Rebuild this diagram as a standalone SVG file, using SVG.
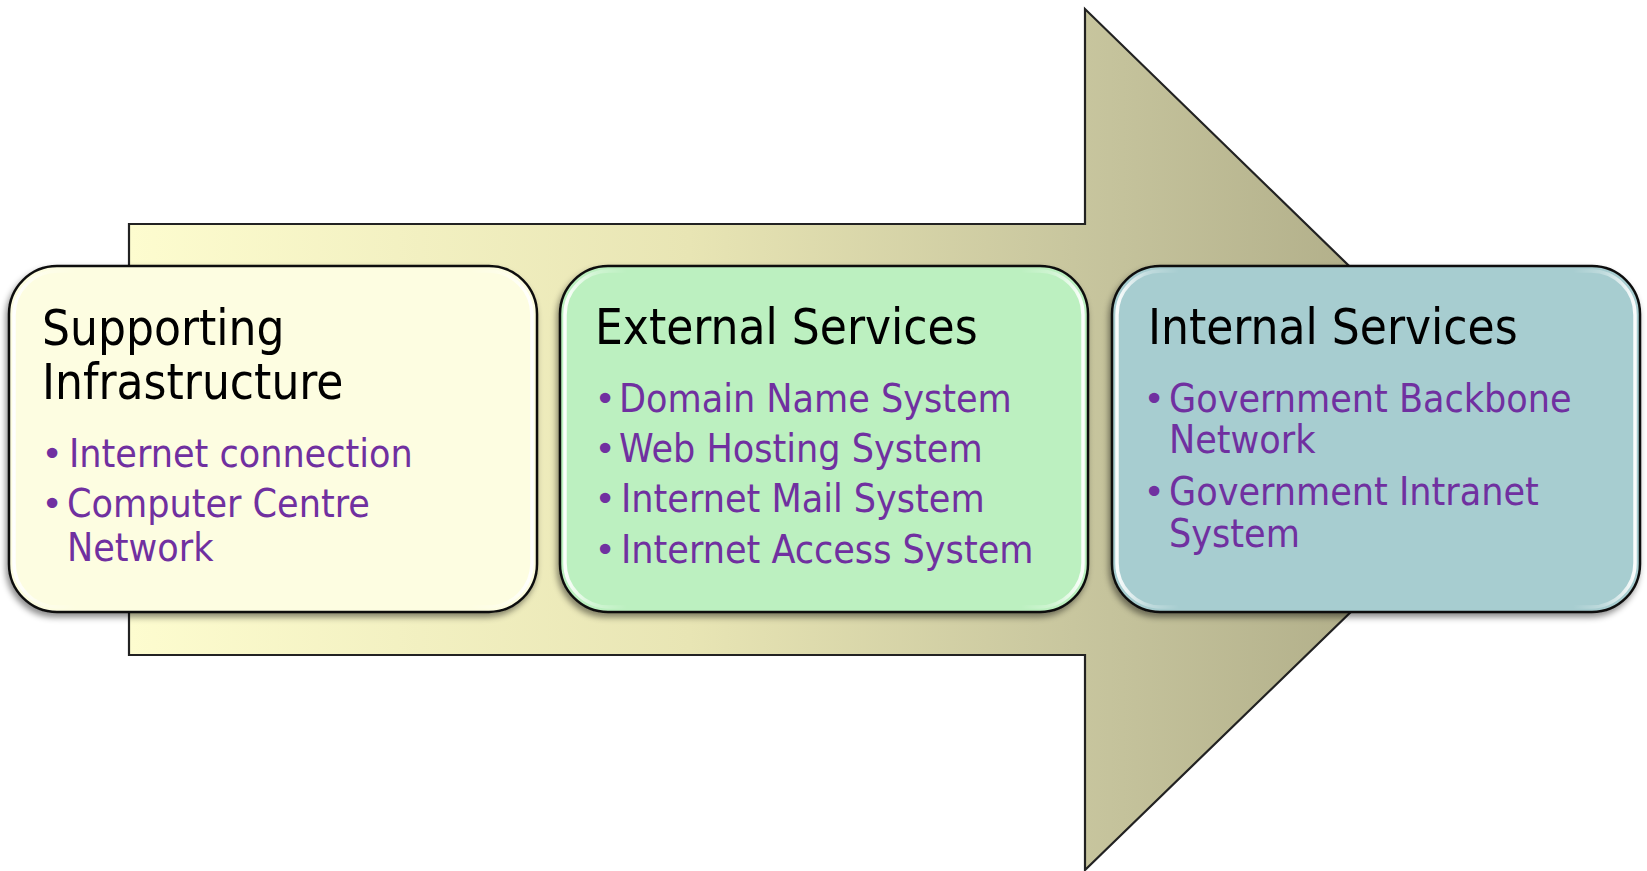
<svg xmlns="http://www.w3.org/2000/svg" width="1647" height="871" viewBox="0 0 1647 871">
<defs>
<linearGradient id="arrowGrad" gradientUnits="userSpaceOnUse" x1="129" y1="0" x2="1530" y2="0">
<stop offset="0" stop-color="#fdfccf"/>
<stop offset="0.4" stop-color="#e8e5b4"/>
<stop offset="0.7" stop-color="#c5c39c"/>
<stop offset="1" stop-color="#a5a27e"/>
</linearGradient>
<linearGradient id="gloss" x1="0" y1="0" x2="1" y2="0">
<stop offset="0" stop-color="#ffffff" stop-opacity="0.95"/>
<stop offset="0.06" stop-color="#ffffff" stop-opacity="0.3"/>
<stop offset="0.12" stop-color="#ffffff" stop-opacity="0"/>
<stop offset="0.88" stop-color="#ffffff" stop-opacity="0"/>
<stop offset="0.94" stop-color="#ffffff" stop-opacity="0.3"/>
<stop offset="1" stop-color="#ffffff" stop-opacity="0.95"/>
</linearGradient>
<filter id="shadow" x="-10%" y="-10%" width="120%" height="130%">
<feDropShadow dx="-2" dy="4" stdDeviation="3" flood-color="#000" flood-opacity="0.45"/>
</filter>
</defs>
<style>
.box{stroke:#111;stroke-width:2.5}
.hl{fill:none;stroke:url(#gloss);stroke-width:3.5}
.title{font-family:"DejaVu Sans Condensed","DejaVu Sans",sans-serif;font-size:49px;fill:#000}
.item{font-family:"DejaVu Sans Condensed","DejaVu Sans",sans-serif;font-size:39px;fill:#7030a0}
.bul{font-family:"DejaVu Sans",sans-serif;font-size:36px;fill:#7030a0;text-anchor:middle}
</style>
<g id="arrow">
<path d="M129,224 H1085 V9 L1528,440 L1085,870 V655 H129 Z" fill="url(#arrowGrad)" stroke="#222" stroke-width="2.2"/>
</g>
<g id="connectors"></g>
<g id="node1">
<rect class="box" x="9" y="266" width="528" height="346" rx="48" fill="#fdfde1" filter="url(#shadow)"/>
<rect class="hl" x="14" y="271" width="518" height="336" rx="44"/>
<text class="title" x="42" y="345">Supporting</text>
<text class="title" x="42" y="399">Infrastructure</text>
<text class="bul" x="52" y="466">•</text>
<text class="item" x="69" y="467">Internet connection</text>
<text class="bul" x="52" y="516">•</text>
<text class="item" x="67" y="517">Computer Centre</text>
<text class="item" x="67" y="561">Network</text>
</g>
<g id="node2">
<rect class="box" x="560" y="266" width="528" height="346" rx="48" fill="#bcf0c0" filter="url(#shadow)"/>
<rect class="hl" x="565" y="271" width="518" height="336" rx="44"/>
<text class="title" x="595" y="344">External Services</text>
<text class="bul" x="605" y="411">•</text>
<text class="item" x="619" y="412">Domain Name System</text>
<text class="bul" x="605" y="461">•</text>
<text class="item" x="619" y="462">Web Hosting System</text>
<text class="bul" x="605" y="511">•</text>
<text class="item" x="621" y="512">Internet Mail System</text>
<text class="bul" x="605" y="562">•</text>
<text class="item" x="621" y="563">Internet Access System</text>
</g>
<g id="node3">
<rect class="box" x="1112" y="266" width="528" height="346" rx="48" fill="#a7cdd0" filter="url(#shadow)"/>
<rect class="hl" x="1117" y="271" width="518" height="336" rx="44"/>
<text class="title" x="1148" y="344">Internal Services</text>
<text class="bul" x="1154" y="411">•</text>
<text class="item" x="1169" y="412">Government Backbone</text>
<text class="item" x="1169" y="453">Network</text>
<text class="bul" x="1154" y="504">•</text>
<text class="item" x="1169" y="505">Government Intranet</text>
<text class="item" x="1169" y="547">System</text>
</g>
</svg>
